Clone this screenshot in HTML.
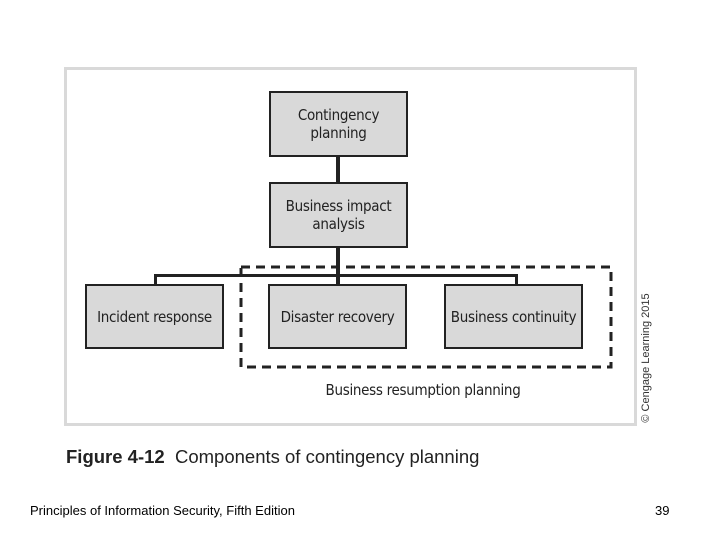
<!DOCTYPE html>
<html><head><style>
body{margin:0;width:720px;height:540px;background:#fff;position:relative;overflow:hidden;font-family:"Liberation Sans",sans-serif}
.a{position:absolute}
.frame{left:64px;top:67px;width:567px;height:353px;border:3px solid #d9d9d9}
.box{position:absolute;background:#d9d9d9;border:2px solid #222;box-sizing:border-box;display:flex;align-items:center;justify-content:center;text-align:center;font-size:15px;line-height:18px;color:#222;font-family:"DejaVu Sans Condensed","Liberation Sans Narrow","Liberation Sans",sans-serif;letter-spacing:-0.3px}
.ln{position:absolute;background:#222}
</style></head><body>
<div class="a frame"></div>
<div class="ln" style="left:336px;top:155px;width:4px;height:129px"></div>
<div class="ln" style="left:154px;top:274px;width:364px;height:3px"></div>
<div class="ln" style="left:154px;top:274px;width:3px;height:12px"></div>
<div class="ln" style="left:515px;top:274px;width:3px;height:12px"></div>
<div class="box" style="left:269px;top:91px;width:139px;height:66px">Contingency<br>planning</div>
<div class="box" style="left:269px;top:182px;width:139px;height:66px">Business impact<br>analysis</div>
<div class="box" style="left:85px;top:284px;width:139px;height:65px">Incident response</div>
<div class="box" style="left:268px;top:284px;width:139px;height:65px">Disaster recovery</div>
<div class="box" style="left:444px;top:284px;width:139px;height:65px">Business continuity</div>
<svg class="a" style="left:0;top:0" width="720" height="540"><rect x="241" y="267" width="370" height="100" fill="none" stroke="#222" stroke-width="3" stroke-dasharray="9,6"/></svg>
<div class="a" style="left:300px;top:381px;width:246px;text-align:center;font-size:15px;color:#222;font-family:'DejaVu Sans Condensed','Liberation Sans',sans-serif;letter-spacing:-0.3px">Business resumption planning</div>
<div class="a" style="left:646px;top:358px;transform:translate(-50%,-50%) rotate(-90deg);white-space:nowrap;font-size:11px;color:#333">© Cengage Learning 2015</div>
<div class="a" style="left:66px;top:446px;font-size:18.5px;color:#222;white-space:nowrap"><b>Figure 4-12</b>&nbsp; Components of contingency planning</div>
<div class="a" style="left:30px;top:503px;font-size:13px;color:#000">Principles of Information Security, Fifth Edition</div>
<div class="a" style="left:655px;top:503px;font-size:13px;color:#000">39</div>
</body></html>
